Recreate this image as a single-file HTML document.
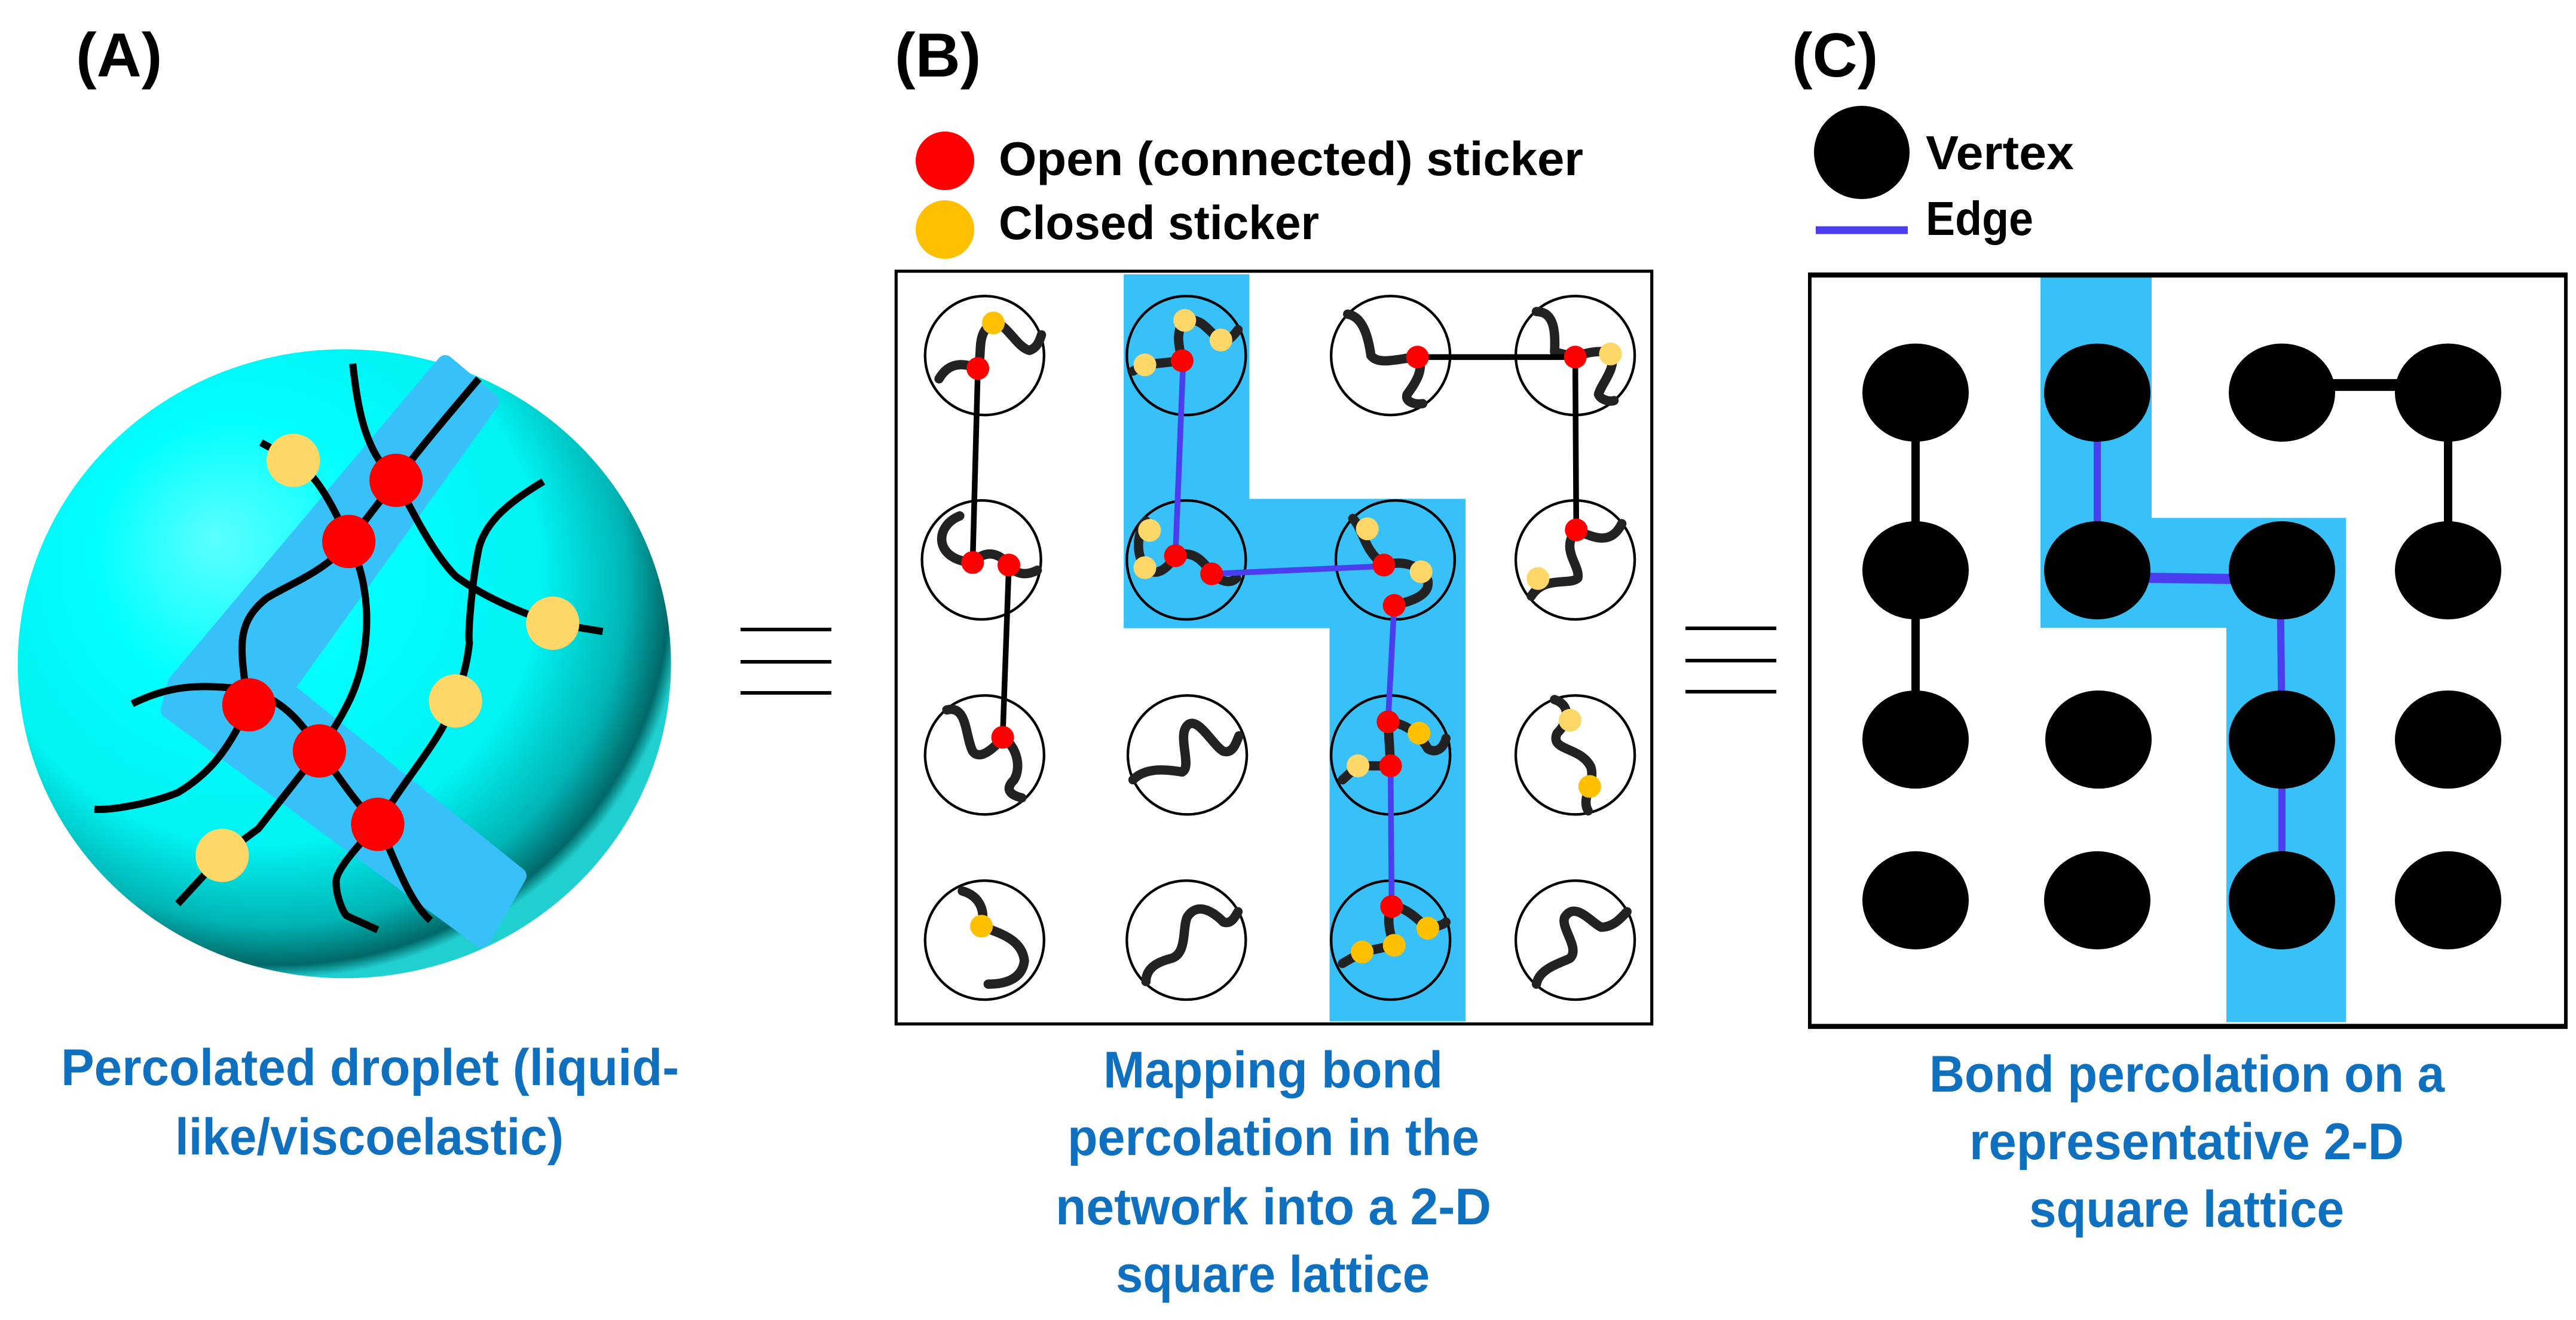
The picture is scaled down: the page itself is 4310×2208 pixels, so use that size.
<!DOCTYPE html>
<html><head><meta charset="utf-8"><style>
html,body{margin:0;padding:0;background:#fff;}
svg{display:block;}
.t{font-family:"Liberation Sans",Arial,sans-serif;font-weight:bold;}
.cap{fill:#1070c0;font-size:86px;}
.lg{fill:#000;font-size:80px;}
.lab{fill:#000;font-size:104px;}
</style></head><body>
<svg width="4310" height="2208" viewBox="0 0 4310 2208" xmlns="http://www.w3.org/2000/svg">
<defs>
<radialGradient id="dg" cx="0.4" cy="0.38" r="0.62" fx="0.3" fy="0.3">
<stop offset="0" stop-color="#5cffff"/>
<stop offset="0.35" stop-color="#00ffff"/>
<stop offset="0.7" stop-color="#00f2f2"/>
<stop offset="0.88" stop-color="#00b4b4"/>
<stop offset="0.97" stop-color="#006868"/>
<stop offset="1" stop-color="#20d0d0"/>
</radialGradient>
</defs>

<text class="t lab" x="127" y="128">(A)</text>
<text class="t lab" x="1497" y="128">(B)</text>
<text class="t lab" x="2998" y="128">(C)</text>

<!-- Panel A -->
<g transform="translate(0,350) scale(0.9294)">
<ellipse cx="620" cy="818" rx="588" ry="566" fill="url(#dg)"/>
</g>
<polygon points="745,608 821,672 477,1152 867,1465 806,1571 283,1188 295,1142" fill="#38c0f8" stroke="#38c0f8" stroke-width="28" stroke-linejoin="round"/>
<g transform="translate(0,350) scale(0.9294)">
<g fill="none" stroke="#000" stroke-width="13" stroke-linejoin="round">
<path d="M470,420 L528,452 C560,470 590,510 628,598 C655,650 668,720 655,800 C645,860 625,900 575,975 C610,1020 640,1070 680,1107 C705,1150 730,1240 775,1280"/>
<path d="M635,278 C645,370 660,440 713,488 C740,450 790,390 862,305"/>
<path d="M713,488 C740,540 780,620 820,660 C860,690 920,720 995,745 L1085,760"/>
<path d="M628,598 L713,488"/>
<path d="M628,598 C590,650 520,675 480,700 C430,740 432,780 440,845 L448,892"/>
<path d="M238,890 C300,860 350,852 448,865 C500,880 540,915 575,975"/>
<path d="M448,892 C410,980 370,1020 320,1050 C270,1070 200,1082 170,1080"/>
<path d="M978,490 C920,525 875,560 862,610 C848,680 842,770 845,780 C842,810 835,840 820,885 C790,960 740,1010 680,1107 C640,1150 605,1190 605,1210 C605,1240 620,1270 625,1272 L680,1297"/>
<path d="M575,975 C540,1020 500,1070 465,1115 L400,1163 L320,1250"/>
</g>
<g fill="#ff0000">
<circle cx="713" cy="488" r="48"/><circle cx="628" cy="598" r="48"/><circle cx="448" cy="892" r="48"/><circle cx="575" cy="975" r="48"/><circle cx="680" cy="1107" r="48"/>
</g>
<g fill="#fdd868">
<circle cx="528" cy="452" r="48"/><circle cx="995" cy="745" r="48"/><circle cx="820" cy="885" r="48"/><circle cx="400" cy="1163" r="48"/>
</g>
</g>
<text class="t cap" x="102" y="1815" textLength="1034" lengthAdjust="spacingAndGlyphs">Percolated droplet (liquid-</text>
<text class="t cap" x="293" y="1931" textLength="650" lengthAdjust="spacingAndGlyphs">like/viscoelastic)</text>

<g stroke="#000" stroke-width="6">
<line x1="1239" y1="1053" x2="1391" y2="1053"/><line x1="1239" y1="1107" x2="1391" y2="1107"/><line x1="1239" y1="1159" x2="1391" y2="1159"/>
<line x1="2820" y1="1051" x2="2972" y2="1051"/><line x1="2820" y1="1105" x2="2972" y2="1105"/><line x1="2820" y1="1157" x2="2972" y2="1157"/>
</g>

<!-- Panel B legend -->
<circle cx="1581" cy="269" r="49" fill="#ff0000"/>
<circle cx="1581" cy="384" r="49" fill="#ffc000"/>
<text class="t lg" x="1671" y="293" textLength="978" lengthAdjust="spacingAndGlyphs">Open (connected) sticker</text>
<text class="t lg" x="1671" y="400" textLength="536" lengthAdjust="spacingAndGlyphs">Closed sticker</text>

<!-- Panel B box -->
<g transform="translate(1450,400) scale(0.8654)">
<polygon points="497,68 740,68 740,502 1158,502 1158,1512 895,1512 895,752 497,752" fill="#38c0f8"/>
<rect x="57" y="62" width="1461" height="1455" fill="none" stroke="#000" stroke-width="6"/>
<g fill="none" stroke="#000" stroke-width="5">
<circle cx="228" cy="225" r="115"/><circle cx="618" cy="225" r="115"/><circle cx="1013" cy="225" r="115"/><circle cx="1370" cy="225" r="115"/>
<circle cx="222" cy="620" r="115"/><circle cx="618" cy="620" r="115"/><circle cx="1022" cy="620" r="115"/><circle cx="1370" cy="620" r="115"/>
<circle cx="228" cy="997" r="115"/><circle cx="620" cy="997" r="115"/><circle cx="1013" cy="997" r="115"/><circle cx="1370" cy="997" r="115"/>
<circle cx="228" cy="1355" r="115"/><circle cx="618" cy="1355" r="115"/><circle cx="1013" cy="1355" r="115"/><circle cx="1370" cy="1355" r="115"/>
</g>
<g fill="none" stroke="#222" stroke-width="18" stroke-linecap="round" stroke-linejoin="round">
<path d="M140,270 C160,235 190,240 215,250 C225,220 210,180 245,162 C270,160 290,210 315,215 C330,210 335,195 338,185"/>
<path d="M515,255 L538,243 L610,235 C605,210 595,180 615,157 C650,150 660,180 685,195 C700,200 710,185 718,175"/>
<path d="M930,145 C960,150 970,190 975,225 C990,245 1030,230 1065,228 C1080,250 1060,280 1045,300 C1040,315 1060,320 1075,318"/>
<path d="M1295,140 C1330,140 1332,180 1330,218 L1370,228 C1400,215 1430,215 1440,222 C1450,250 1420,280 1415,300 C1420,312 1440,315 1445,312"/>
<path d="M180,535 C130,555 130,620 205,625 C230,600 255,605 275,630 C290,650 310,650 330,640"/>
<path d="M540,545 C520,570 520,620 545,640 C560,650 580,640 597,612 C630,600 650,620 667,647 C690,665 705,665 715,655"/>
<path d="M940,540 C960,560 960,600 1000,630 C1040,620 1070,630 1085,660 C1090,690 1050,700 1020,708"/>
<path d="M1460,550 C1440,590 1410,580 1372,562 C1340,600 1380,630 1375,655 C1360,670 1310,650 1285,690"/>
<path d="M155,910 C195,900 190,960 205,990 C220,1010 250,980 263,963 C290,980 300,1020 285,1045 C265,1065 280,1075 300,1080"/>
<path d="M515,1045 C540,1020 580,1025 610,1030 C630,1020 600,960 620,940 C640,920 670,980 690,990 C710,995 715,970 720,960"/>
<path d="M920,1045 L950,1018 L1013,1018 L1008,933 C1040,935 1068,955 1085,985 C1100,995 1115,985 1120,965"/>
<path d="M1330,890 C1360,900 1360,930 1335,955 C1320,990 1380,980 1400,1020 C1410,1050 1380,1080 1395,1105"/>
<path d="M185,1260 C220,1270 230,1300 222,1328 C250,1340 300,1350 305,1395 C300,1435 260,1440 235,1440"/>
<path d="M540,1435 C540,1405 570,1395 590,1390 C620,1380 610,1330 620,1310 C640,1280 670,1300 690,1320 C705,1325 712,1310 718,1300"/>
<path d="M920,1400 L958,1378 L1020,1365 C1010,1340 1005,1310 1015,1290 C1045,1290 1070,1320 1085,1332 C1100,1330 1115,1325 1120,1320"/>
<path d="M1295,1440 C1300,1410 1340,1400 1360,1390 C1380,1370 1340,1330 1350,1310 C1370,1280 1400,1320 1420,1330 C1445,1330 1460,1310 1470,1300"/>
</g>
<g stroke="#000" stroke-width="11">
<line x1="215" y1="250" x2="205" y2="625"/>
<line x1="275" y1="630" x2="263" y2="963"/>
<line x1="1065" y1="228" x2="1370" y2="228"/>
<line x1="1370" y1="228" x2="1372" y2="562"/>
</g>
<g stroke="#4a3ef0" stroke-width="11">
<line x1="612" y1="235" x2="597" y2="612"/>
<line x1="667" y1="647" x2="1000" y2="632"/>
<line x1="1020" y1="708" x2="1008" y2="933"/>
<line x1="1013" y1="1018" x2="1015" y2="1290"/>
</g>
<g fill="#ff0000">
<circle cx="215" cy="250" r="22"/><circle cx="205" cy="625" r="22"/><circle cx="275" cy="630" r="22"/><circle cx="263" cy="963" r="22"/>
<circle cx="610" cy="235" r="22"/><circle cx="597" cy="612" r="22"/><circle cx="667" cy="647" r="22"/><circle cx="1065" cy="228" r="22"/>
<circle cx="1370" cy="228" r="22"/><circle cx="1372" cy="562" r="22"/><circle cx="1000" cy="630" r="22"/><circle cx="1020" cy="708" r="22"/>
<circle cx="1008" cy="933" r="22"/><circle cx="1013" cy="1018" r="22"/><circle cx="1015" cy="1290" r="22"/>
</g>
<g fill="#fdd868">
<circle cx="615" cy="157" r="22"/><circle cx="685" cy="195" r="22"/><circle cx="538" cy="243" r="22"/><circle cx="547" cy="563" r="22"/>
<circle cx="538" cy="635" r="22"/><circle cx="968" cy="560" r="22"/><circle cx="1072" cy="643" r="22"/><circle cx="1438" cy="222" r="22"/>
<circle cx="1298" cy="656" r="22"/><circle cx="950" cy="1018" r="22"/><circle cx="1360" cy="930" r="22"/>
</g>
<g fill="#ffc000">
<circle cx="245" cy="162" r="22"/><circle cx="1068" cy="955" r="22"/><circle cx="1398" cy="1058" r="22"/><circle cx="222" cy="1328" r="22"/>
<circle cx="1085" cy="1332" r="22"/><circle cx="958" cy="1378" r="22"/><circle cx="1020" cy="1365" r="22"/>
</g>
</g>
<text class="t cap" x="1846" y="1819" textLength="568" lengthAdjust="spacingAndGlyphs">Mapping bond</text>
<text class="t cap" x="1786" y="1932" textLength="689" lengthAdjust="spacingAndGlyphs">percolation in the</text>
<text class="t cap" x="1766" y="2048" textLength="729" lengthAdjust="spacingAndGlyphs">network into a 2-D</text>
<text class="t cap" x="1867" y="2161" textLength="525" lengthAdjust="spacingAndGlyphs">square lattice</text>

<!-- Panel C -->
<ellipse cx="3115" cy="255" rx="80" ry="78" fill="#000"/>
<line x1="3038" y1="385" x2="3192" y2="385" stroke="#4a3ef0" stroke-width="13"/>
<text class="t lg" x="3222" y="283" textLength="248" lengthAdjust="spacingAndGlyphs">Vertex</text>
<text class="t lg" x="3222" y="393" textLength="180" lengthAdjust="spacingAndGlyphs">Edge</text>
<g transform="translate(2750,0) scale(1,1.4154)">
<polygon points="664,327 850,327 850,612 1175,612 1175,1208 975,1208 975,742 664,742" fill="#38c0f8"/>
<rect x="278" y="325" width="1265" height="888" fill="none" stroke="#000" stroke-width="6"/>
<g stroke="#000" stroke-width="14">
<line x1="455" y1="464" x2="455" y2="874"/>
<line x1="1068" y1="455" x2="1346" y2="455"/>
<line x1="1346" y1="464" x2="1346" y2="674"/>
</g>
<g stroke="#4a3ef0" stroke-width="12">
<line x1="759" y1="464" x2="759" y2="674"/>
<line x1="759" y1="682" x2="1068" y2="685"/>
<line x1="1065" y1="674" x2="1068" y2="874"/>
<line x1="1068" y1="874" x2="1068" y2="1064"/>
</g>
<g fill="#000">
<ellipse cx="455" cy="464" rx="89" ry="58"/><ellipse cx="759" cy="464" rx="89" ry="58"/><ellipse cx="1068" cy="464" rx="89" ry="58"/><ellipse cx="1346" cy="464" rx="89" ry="58"/>
<ellipse cx="455" cy="674" rx="89" ry="58"/><ellipse cx="759" cy="674" rx="89" ry="58"/><ellipse cx="1068" cy="674" rx="89" ry="58"/><ellipse cx="1346" cy="674" rx="89" ry="58"/>
<ellipse cx="455" cy="874" rx="89" ry="58"/><ellipse cx="761" cy="874" rx="89" ry="58"/><ellipse cx="1068" cy="874" rx="89" ry="58"/><ellipse cx="1346" cy="874" rx="89" ry="58"/>
<ellipse cx="455" cy="1064" rx="89" ry="58"/><ellipse cx="759" cy="1064" rx="89" ry="58"/><ellipse cx="1068" cy="1064" rx="89" ry="58"/><ellipse cx="1346" cy="1064" rx="89" ry="58"/>
</g>
</g>
<text class="t cap" x="3228" y="1826" textLength="862" lengthAdjust="spacingAndGlyphs">Bond percolation on a</text>
<text class="t cap" x="3295" y="1939" textLength="727" lengthAdjust="spacingAndGlyphs">representative 2-D</text>
<text class="t cap" x="3395" y="2052" textLength="527" lengthAdjust="spacingAndGlyphs">square lattice</text>
</svg>
</body></html>
